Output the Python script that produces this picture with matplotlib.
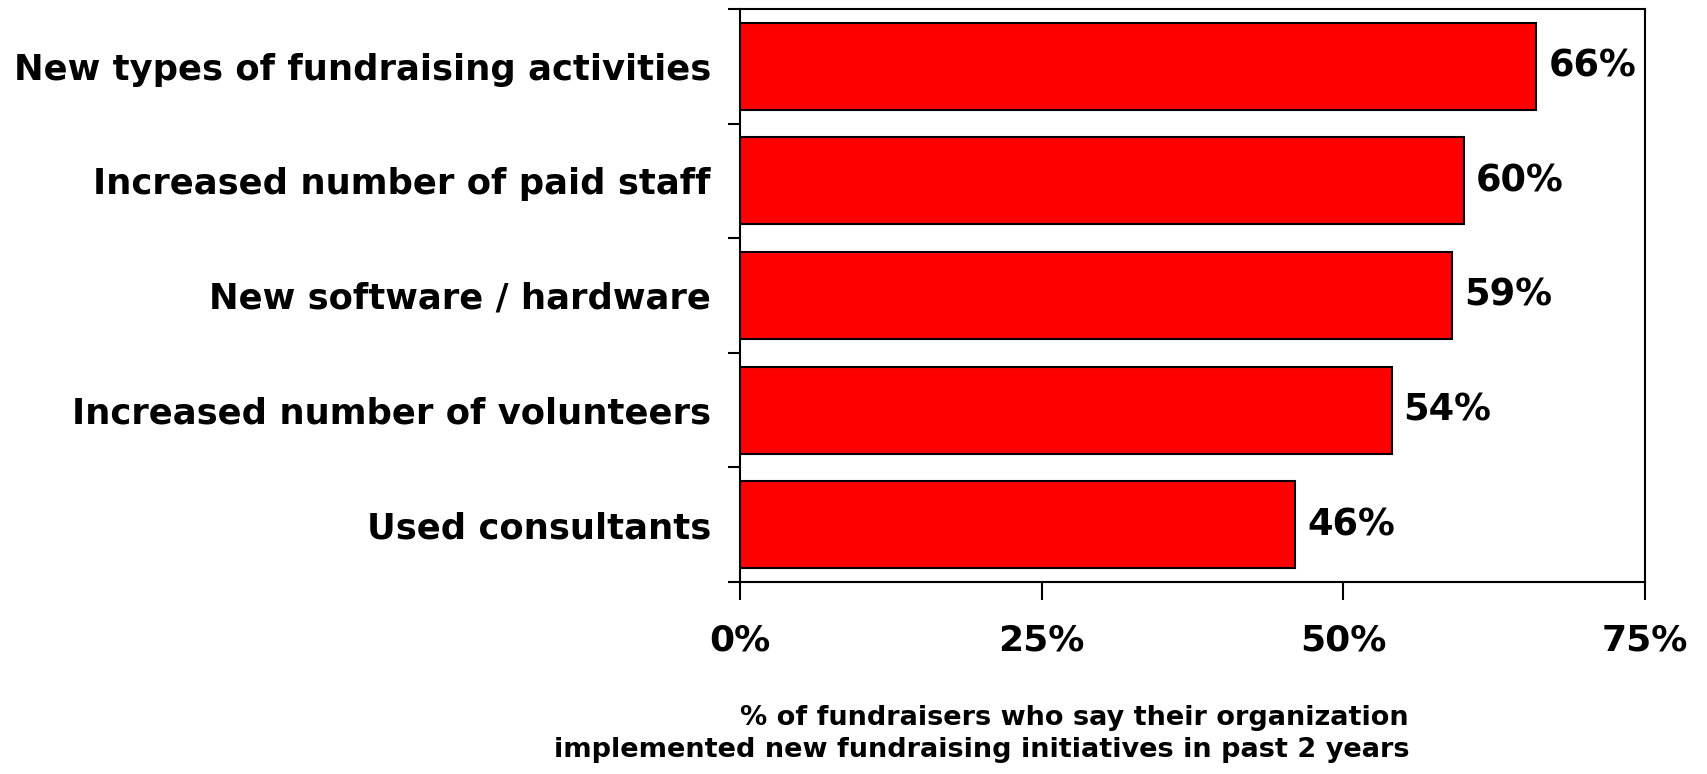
import matplotlib.pyplot as plt
import numpy as np

categories = [
    "New types of fundraising activities",
    "Increased number of paid staff",
    "New software / hardware",
    "Increased number of volunteers",
    "Used consultants",
]
values = [66, 60, 59, 54, 46]
xticks = [0, 25, 50, 75]
xlabel = "% of fundraisers who say their organization\nimplemented new fundraising initiatives in past 2 years"

plt.rcParams["font.family"] = "DejaVu Sans"
plt.rcParams["font.weight"] = "bold"

fig = plt.figure(figsize=(17.07, 7.74), dpi=100)
ax = fig.add_axes([740 / 1707, 1 - 582 / 774, 905 / 1707, 573 / 774])

y = np.arange(len(categories))
bars = ax.barh(y, values, height=0.76, color="#ff0000", edgecolor="black", linewidth=1.5)

for rect, v in zip(bars, values):
    ax.text(rect.get_width() + 1.0, rect.get_y() + rect.get_height() / 2, f"{v}%",
            ha="left", va="center", fontsize=26.5, fontweight="bold")

ax.set_xlim(0, 75)
ax.set_ylim(len(categories) - 0.5, -0.5)

ax.set_xticks(xticks)
ax.set_xticklabels([f"{t}%" for t in xticks], fontsize=26, fontweight="bold")
ax.tick_params(axis="x", direction="out", length=13, width=1.5, pad=17)

ax.set_yticks(y)
ax.set_yticklabels(categories, fontsize=25.5, fontweight="bold")
ax.set_yticks(np.arange(len(categories) + 1) - 0.5, minor=True)
ax.tick_params(axis="y", which="major", length=0, pad=21)
ax.tick_params(axis="y", which="minor", direction="out", length=9, width=1.5)

for s in ax.spines.values():
    s.set_linewidth(1.5)

fig.text(1409 / 1707, 1 - 734 / 774, xlabel, ha="right", va="center", multialignment="right",
         fontsize=19.5, fontweight="bold", linespacing=1.3)

fig.savefig("out.png", dpi=100)
